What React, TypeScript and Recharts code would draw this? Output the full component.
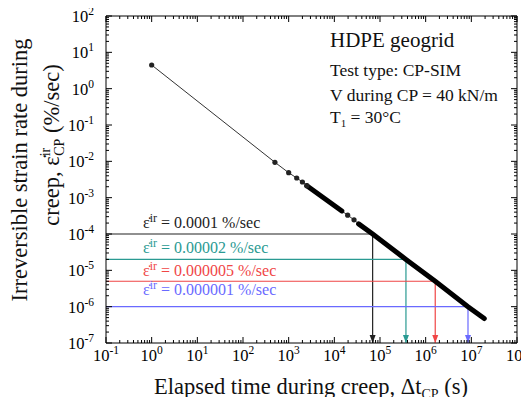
import { ComposedChart, Customized, Line, XAxis, YAxis } from "recharts";

// axis decades (exponents of ten)
const xExponents = [-1, 0, 1, 2, 3, 4, 5, 6, 7, 8];
const yExponents = [-7, -6, -5, -4, -3, -2, -1, 0, 1, 2];

// measured irreversible strain rate during creep (t in s, rate in %/sec)
const creepTime = [1, 500, 1000, 1500, 2000, 2500, 14600, 19600, 27000, 34000, 69000, 370000, 1620000, 8450000, 19200000];
const creepRate = [4.48, 0.0094, 0.00486, 0.00348, 0.0027, 0.00214, 0.00043, 0.00033, 0.000245, 0.00019, 0.0001, 0.00002, 0.000005, 0.000001, 0.00000047];

// isolated markers and the two densely sampled stretches (indices into the arrays above)
const markerIdx = [0, 1, 2, 3, 4, 5, 7, 8];
const denseRanges = [[5, 6], [9, 14]];

// target rates and the elapsed time at which they are reached
const targetRate = [0.0001, 0.00002, 0.000005, 0.000001];
const targetTime = [69000, 370000, 1620000, 8450000];
const targetLabel = ["0.0001", "0.00002", "0.000005", "0.000001"];
const targetColor = ["#222222", "#2a9a92", "#f04646", "#6a6aff"];
const labelLift = [6, 6, 5, 12];

const FONT = "'Liberation Serif', 'Times New Roman', serif";
const serif = { fontFamily: FONT };

const decadeTicks = (exps: number[]) => {
  const out: number[] = [];
  exps.forEach((e, i) => {
    out.push(Math.pow(10, e));
    if (i < exps.length - 1) for (let m = 2; m <= 9; m++) out.push(m * Math.pow(10, e));
  });
  return out;
};
const xTicks = decadeTicks(xExponents);
const yTicks = decadeTicks(yExponents);

const expOf = (v: number) => Math.round(Math.log10(v));
const isMajor = (v: number) => Math.abs(Math.log10(v) - expOf(v)) < 1e-6;

const pts = (idx: number[]) => idx.map((i) => ({ t: creepTime[i], v: creepRate[i] }));
const allPts = pts(creepTime.map((_, i) => i));
const markerPts = pts(markerIdx);
const densePts = denseRanges.map(([a, b]) => pts(creepTime.map((_, i) => i).filter((i) => i >= a && i <= b)));

const BottomTick = (props: any) => {
  const { x, y, payload } = props;
  const major = isMajor(payload.value);
  return (
    <g>
      <line x1={x} y1={y} x2={x} y2={y - (major ? 6 : 3)} stroke="#000" />
      {major && (
        <text x={x} y={y + 18} textAnchor="middle" style={serif} fontSize={16.5} fill="#000">
          10<tspan dy={-7} fontSize={11.5}>{expOf(payload.value)}</tspan>
        </text>
      )}
    </g>
  );
};

const TopTick = (props: any) => {
  const { x, y, payload } = props;
  const major = isMajor(payload.value);
  return <line x1={x} y1={y} x2={x} y2={y + (major ? 6 : 3)} stroke="#000" />;
};

const LeftTick = (props: any) => {
  const { x, y, payload } = props;
  const major = isMajor(payload.value);
  return (
    <g>
      <line x1={x} y1={y} x2={x + (major ? 6 : 3)} y2={y} stroke="#000" />
      {major && (
        <text x={x - 12} y={y + 6} textAnchor="end" style={serif} fontSize={16.5} fill="#000">
          10<tspan dy={-7} fontSize={11.5}>{expOf(payload.value)}</tspan>
        </text>
      )}
    </g>
  );
};

const RightTick = (props: any) => {
  const { x, y, payload } = props;
  const major = isMajor(payload.value);
  return <line x1={x} y1={y} x2={x - (major ? 6 : 3)} y2={y} stroke="#000" />;
};

const Titles = () => (
  <g style={serif} fill="#111">
    <text x={311} y={394} textAnchor="middle" fontSize={22.5} style={serif}>
      Elapsed time during creep, Δt<tspan dy={5} fontSize={14}>CP</tspan>
      <tspan dy={-5}> (s)</tspan>
    </text>
    <text transform="translate(27,170) rotate(-90)" textAnchor="middle" fontSize={22.5} style={serif}>
      Irreversible strain rate during
    </text>
    <text transform="translate(59,145) rotate(-90)" textAnchor="middle" fontSize={22.5} style={serif}>
      creep, ε̇<tspan dy={-9} fontSize={14}>ir</tspan>
      <tspan dx={-8} dy={14} fontSize={14}>CP</tspan>
      <tspan dy={-5}> (%/sec)</tspan>
    </text>
    <text x={330} y={47} fontSize={21} style={serif}>HDPE geogrid</text>
    <text x={330} y={76} fontSize={17.5} style={serif}>Test type: CP-SIM</text>
    <text x={330} y={101} fontSize={17.5} style={serif}>V during CP = 40 kN/m</text>
    <text x={330} y={123} fontSize={17.5} style={serif}>
      T<tspan dy={4} fontSize={11}>1</tspan>
      <tspan dy={-4}> = 30°C</tspan>
    </text>
  </g>
);

const targetDot = (k: number) => (p: any) => {
  const { cx, cy, index } = p;
  if (index === 0) {
    return (
      <text key={`l${k}`} x={cx + 37} y={cy - labelLift[k]} style={serif} fontSize={16} fill={targetColor[k]}>
        ε̇<tspan dy={-6} fontSize={12}>ir</tspan>
        <tspan dy={6}> = {targetLabel[k]} %/sec</tspan>
      </text>
    );
  }
  if (index === 2) {
    return <path key={`a${k}`} d={`M${cx - 3},${cy - 8} L${cx + 3},${cy - 8} L${cx},${cy} Z`} fill={targetColor[k]} />;
  }
  return <g key={`n${k}${index}`} />;
};

const logX = { type: "number" as const, scale: "log" as const, domain: [0.1, 1e8], allowDataOverflow: true, ticks: xTicks, interval: 0, tickSize: 0, tickMargin: 0, tickLine: false, axisLine: { stroke: "#000" } };
const logY = { type: "number" as const, scale: "log" as const, domain: [1e-7, 100], allowDataOverflow: true, ticks: yTicks, interval: 0, tickSize: 0, tickMargin: 0, tickLine: false, axisLine: { stroke: "#000" } };

export default function App() {
  return (
    <div style={{ margin: -8, fontFamily: FONT }}>
      <ComposedChart width={529} height={405} margin={{ top: 0, right: 0, bottom: 0, left: 0 }} style={serif}>
        <XAxis xAxisId="b" dataKey="t" height={62} tick={<BottomTick />} {...logX} />
        <XAxis xAxisId="top" orientation="top" dataKey="t" height={16} tick={<TopTick />} {...logX} />
        <YAxis yAxisId="l" width={106} tick={<LeftTick />} {...logY} />
        <YAxis yAxisId="r" orientation="right" width={12} tick={<RightTick />} {...logY} />
        {targetRate.map((r, k) => (
          <Line
            key={`target${k}`}
            xAxisId="b"
            yAxisId="l"
            data={[
              { t: 0.1, v: r },
              { t: targetTime[k], v: r },
              { t: targetTime[k], v: 1e-7 },
            ]}
            dataKey="v"
            type="linear"
            stroke={targetColor[k]}
            strokeWidth={1.2}
            dot={targetDot(k)}
            activeDot={false}
            isAnimationActive={false}
          />
        ))}
        <Line
          xAxisId="b"
          yAxisId="l"
          data={allPts}
          dataKey="v"
          type="linear"
          stroke="#333"
          strokeWidth={1}
          dot={false}
          activeDot={false}
          isAnimationActive={false}
        />
        {densePts.map((d, k) => (
          <Line
            key={`dense${k}`}
            xAxisId="b"
            yAxisId="l"
            data={d}
            dataKey="v"
            type="linear"
            stroke="#000"
            strokeWidth={5}
            strokeLinecap="round"
            dot={false}
            activeDot={false}
            isAnimationActive={false}
          />
        ))}
        <Line
          xAxisId="b"
          yAxisId="l"
          data={markerPts}
          dataKey="v"
          type="linear"
          stroke="none"
          dot={{ r: 2.6, fill: "#222", stroke: "none" }}
          activeDot={false}
          isAnimationActive={false}
        />
        <Customized component={Titles} />
      </ComposedChart>
    </div>
  );
}
